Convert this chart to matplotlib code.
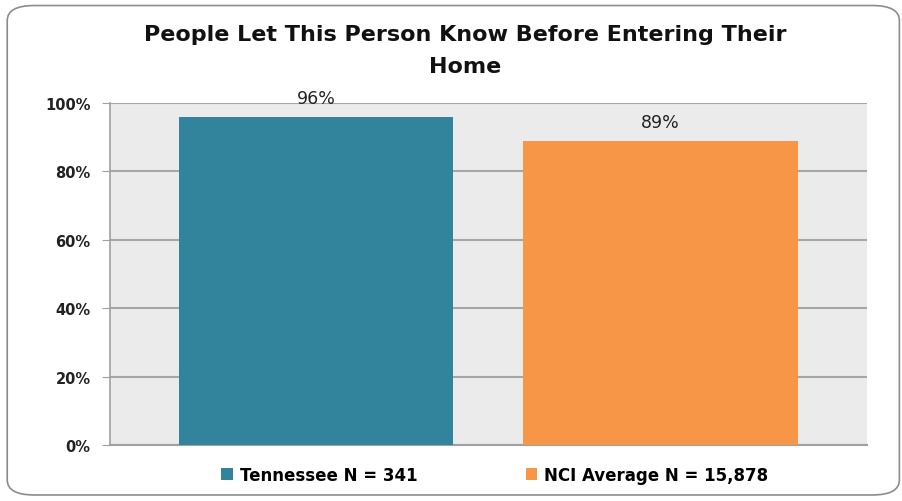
import matplotlib.pyplot as plt
from matplotlib.patches import FancyBboxPatch, Patch
from matplotlib.ticker import PercentFormatter

series = ["Tennessee N = 341", "NCI Average N = 15,878"]
values = [96, 89]
colors = ["#31849B", "#F79646"]
title = "People Let This Person Know Before Entering Their\nHome"

plt.rcParams['font.family'] = ['DejaVu Sans']

fig = plt.figure(figsize=(9.03, 5.02), dpi=100)
fig.patch.set_facecolor("white")
fig.patches.append(FancyBboxPatch((0.008, 0.012), 0.988, 0.975,
                                  boxstyle="round,pad=0,rounding_size=0.03",
                                  transform=fig.transFigure, facecolor="white",
                                  edgecolor="#8c8c8c", linewidth=1.2, zorder=-1))

ax = fig.add_axes([110 / 903, 1 - 446 / 502, 757 / 903, 342 / 502])
ax.set_facecolor("#EBEBEB")

pos = list(range(len(values)))
bars = ax.bar(pos, values, width=0.797, color=colors, zorder=3)
for b, v in zip(bars, values):
    ax.text(b.get_x() + b.get_width() / 2, v + 2.8, f"{v}%", ha="center",
            va="bottom", fontsize=12.5, color="#222222")

ax.set_xlim(-0.599, 1.6)
ax.set_ylim(0, 100)
ax.set_yticks(range(0, 101, 20))
ax.yaxis.set_major_formatter(PercentFormatter(decimals=0))
ax.set_xticks([])
ax.grid(axis="y", color="#A6A6A6", linewidth=1.5, zorder=0)
for s in ["top", "right"]:
    ax.spines[s].set_visible(False)
ax.spines["left"].set_color("#A0A0A0")
ax.spines["bottom"].set_color("#A0A0A0")
ax.spines["left"].set_linewidth(1.2)
ax.spines["bottom"].set_linewidth(1.5)
ax.tick_params(axis="y", length=6, color="#A0A0A0", labelsize=10.5,
               labelcolor="#222222", pad=8)
for lab in ax.get_yticklabels():
    lab.set_fontweight("bold")

fig.text(0.515, 0.95, title, ha="center", va="top", fontsize=16,
         fontweight="bold", linespacing=1.75, color="#111111")

handles = [Patch(facecolor=c, label=s) for c, s in zip(colors, series)]
leg = fig.legend(handles=handles, loc="center", bbox_to_anchor=(0.548, 0.052),
                 ncol=2, frameon=False, fontsize=12, handlelength=0.7,
                 handleheight=0.7, handletextpad=0.4, columnspacing=6.5)
for t in leg.get_texts():
    t.set_fontweight("bold")

fig.savefig("out.png", dpi=100)
